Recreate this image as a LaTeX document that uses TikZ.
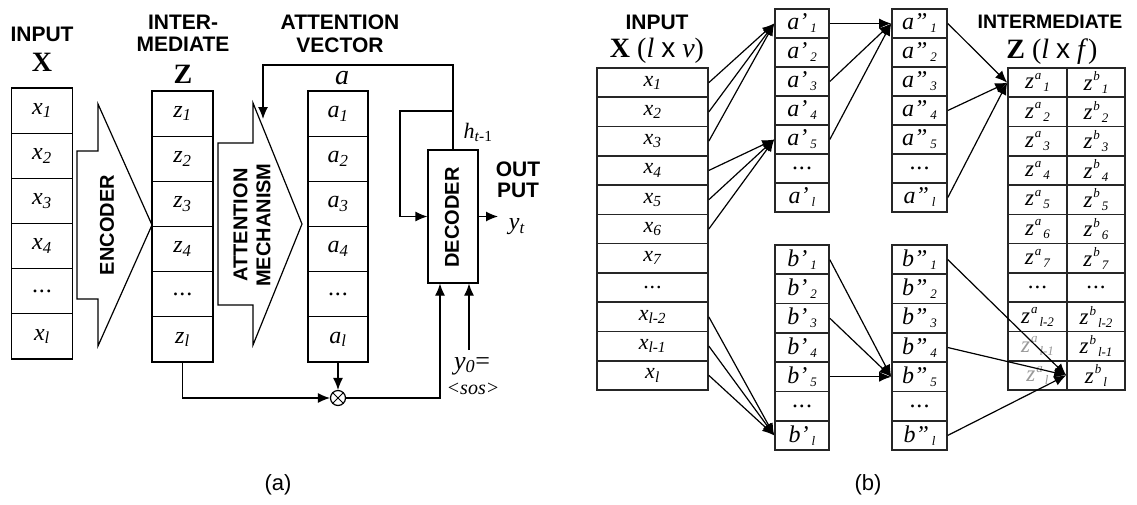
\documentclass[tikz,border=0pt]{standalone}
\usepackage{fontspec}
\setmainfont{Liberation Serif}
\setsansfont{Liberation Sans}
\usetikzlibrary{arrows.meta,calc}
\newcommand{\fsz}[1]{\fontsize{#1}{#1}\selectfont}
\newcommand{\ix}[2]{\textit{#1}\textsubscript{\textit{#2}}}
\newcommand{\apr}[3]{\textit{#1#2}\kern3pt\raisebox{-3pt}{\fsz{13}\textit{#3}}}
\newcommand{\zz}[2]{\textit{z}\kern1pt\raisebox{9.5pt}{\fsz{13}\textit{#1}}\kern2pt\raisebox{-3pt}{\fsz{13}\textit{#2}}}
\newcommand{\dd}{\textup{.\kern1pt.\kern1pt.}}
\begin{document}
\begin{tikzpicture}[x=1pt,y=-1pt,
  acell/.style={draw, line width=1.2pt, inner sep=0pt, minimum height=45.17pt, font=\fsz{24}},
  bcell/.style={draw=black!85, line width=1.6pt, inner sep=0pt, font=\fsz{22}},
  pcell/.style={draw=black!85, line width=1.6pt, inner sep=0pt, minimum width=54pt, minimum height=29pt, font=\fsz{24}},
  zcell/.style={draw=black!85, line width=1.6pt, inner sep=0pt, minimum height=29.27pt, font=\fsz{23}},
  hdr/.style={inner sep=0pt, align=center, font=\sffamily\bfseries\fontsize{21}{22}\selectfont},
  bigx/.style={inner sep=0pt, font=\bfseries\fsz{28}},
  shp/.style={draw, line width=1.2pt, line join=miter},
  rtxt/.style={rotate=90, inner sep=0pt, align=center, font=\sffamily\bfseries\fontsize{20}{23}\selectfont},
  arr/.style={draw, line width=1.2pt, -{Latex[length=12pt,width=10pt]}},
  barr/.style={draw, line width=1.2pt, -{Latex[length=12pt,width=10pt]}},
  lbl/.style={inner sep=0pt},
  captxt/.style={inner sep=0pt, font=\sffamily\fsz{22}}
]
\fill[white] (0,0) rectangle (1137,504);
\useasboundingbox (0,0) rectangle (1137,504);

% ================= (a) =================
\node[hdr] (inputA) at (42,34) {INPUT};
\node[bigx] (Xa) at (42,62) {X};
\node[hdr] (interA) at (183,33) {INTER-\\MEDIATE};
\node[bigx] (Za) at (183,74) {Z};
\node[hdr, font=\sffamily\bfseries\fontsize{21}{23}\selectfont] (attv) at (340,34) {ATTENTION\\VECTOR};
\node[lbl, font=\itshape\fsz{28}] (ahead) at (342,78) {a};

\foreach \i/\lab in {1/\ix{x}{1},2/\ix{x}{2},3/\ix{x}{3},4/\ix{x}{4},5/\dd,6/\ix{x}{l}}
  \node[acell, minimum width=61pt] (xa\i) at (42,{88+45.17*(\i-0.5)}) {\lab};
\foreach \i/\lab in {1/\ix{z}{1},2/\ix{z}{2},3/\ix{z}{3},4/\ix{z}{4},5/\dd,6/\ix{z}{l}}
  \node[acell, minimum width=61pt] (za\i) at (182.5,{91+45.17*(\i-0.5)}) {\lab};
\foreach \i/\lab in {1/\ix{a}{1},2/\ix{a}{2},3/\ix{a}{3},4/\ix{a}{4},5/\dd,6/\ix{a}{l}}
  \node[acell, minimum width=60pt] (aa\i) at (338,{91+45.17*(\i-0.5)}) {\lab};

\draw[shp] (77,151) -- (98,151) -- (98,104) -- (152,225) -- (98,346) -- (98,299) -- (77,299) -- cycle;
\node[rtxt] (enc) at (107,225) {ENCODER};
\draw[shp] (218,143) -- (253,143) -- (253,103) -- (302,224) -- (253,345) -- (253,305) -- (218,305) -- cycle;
\node[rtxt] (attm) at (252,225) {ATTENTION\\MECHANISM};

\node[draw, line width=1.2pt, minimum width=50pt, minimum height=133pt, inner sep=0pt] (dec) at (453,216.5) {};
\node[rtxt] (dect) at (452,217.5) {DECODER};

\node[draw, circle, line width=1.2pt, minimum size=15pt, inner sep=0pt] (mul) at (338,398) {};
\draw[line width=0.9pt] (mul.north west) -- (mul.south east) (mul.north east) -- (mul.south west);

\draw[arr] (za6.south) |- (mul.west);
\draw[arr] (aa6.south) -- (mul.north);
\draw[arr] (mul.east) -| ([xshift=-13pt]dec.south);
\coordinate (y0top) at (469,350);
\draw[arr] (y0top) -- (y0top |- dec.south);
\node[lbl, font=\fsz{26}] (y0) at (472,366) {\ix{y}{0}=};
\node[lbl, font=\itshape\fsz{20}] (sos) at (473,389) {<sos>};
\coordinate (fbtop) at (453,65);
\coordinate (fbend) at (263,119);
\draw[arr] (dec.north) -- (fbtop) -| (fbend);
\coordinate (lpstart) at (453,111);
\coordinate (lpcorner) at (400,111);
\draw[arr] (lpstart) -- (lpcorner) |- (dec.west);
\node[lbl, font=\fsz{22}] (ht) at (478,132) {\textit{h}\textsubscript{\textit{t}-1}};
\coordinate (outtip) at (498,216.5);
\draw[arr] (dec.east) -- (outtip);
\node[lbl, font=\fsz{24}] (yt) at (517,227) {\ix{y}{t}};
\node[hdr, font=\sffamily\bfseries\fontsize{21}{21}\selectfont] (outp) at (518,180) {OUT\\PUT};
\node[captxt] (capa) at (278,485) {(a)};

% ================= (b) =================
\node[hdr] (inputB) at (657,22) {INPUT};
\node[lbl, font=\fsz{28}] (Xb) at (657,51) {\textbf{X} (\textit{l} {\sffamily x} \textit{v})};
\node[hdr, font=\sffamily\bfseries\fsz{19.5}] (interB) at (1050,22) {INTERMEDIATE};
\node[lbl, font=\fsz{28}] (Zb) at (1052,52) {\textbf{Z} (\textit{l} {\sffamily x} \textit{f})};

\foreach \i/\lab in {1/\ix{x}{1},2/\ix{x}{2},3/\ix{x}{3},4/\ix{x}{4},5/\ix{x}{5},6/\ix{x}{6},7/\ix{x}{7},8/\dd,9/\ix{x}{l-2},10/\ix{x}{l-1},11/\ix{x}{l}}
  \node[bcell, minimum width=111pt, minimum height=29.27pt] (xb\i) at (652.5,{68+29.27*(\i-0.5)}) {\lab};

\foreach \i/\lab in {1/\apr{a}{’}{1},2/\apr{a}{’}{2},3/\apr{a}{’}{3},4/\apr{a}{’}{4},5/\apr{a}{’}{5},6/\dd,7/\apr{a}{’}{l}}
  \node[pcell] (ap\i) at (802,{9+29*(\i-0.5)}) {\lab};
\foreach \i/\lab in {1/\apr{a}{”}{1},2/\apr{a}{”}{2},3/\apr{a}{”}{3},4/\apr{a}{”}{4},5/\apr{a}{”}{5},6/\dd,7/\apr{a}{”}{l}}
  \node[pcell, minimum width=55pt] (app\i) at (919.5,{9+29*(\i-0.5)}) {\lab};
\foreach \i/\lab in {1/\apr{b}{’}{1},2/\apr{b}{’}{2},3/\apr{b}{’}{3},4/\apr{b}{’}{4},5/\apr{b}{’}{5},6/\dd,7/\apr{b}{’}{l}}
  \node[pcell, minimum height=29.29pt] (bp\i) at (802,{245+29.29*(\i-0.5)}) {\lab};
\foreach \i/\lab in {1/\apr{b}{”}{1},2/\apr{b}{”}{2},3/\apr{b}{”}{3},4/\apr{b}{”}{4},5/\apr{b}{”}{5},6/\dd,7/\apr{b}{”}{l}}
  \node[pcell, minimum width=55pt, minimum height=29.29pt] (bpp\i) at (919.5,{245+29.29*(\i-0.5)}) {\lab};

\foreach \i/\lab in {1/\zz{a}{1},2/\zz{a}{2},3/\zz{a}{3},4/\zz{a}{4},5/\zz{a}{5},6/\zz{a}{6},7/\zz{a}{7},8/\dd,9/\zz{a}{l-2}}
  \node[zcell, minimum width=59pt] (zza\i) at (1037.5,{68+29.27*(\i-0.5)}) {\lab};
\foreach \i/\lab in {10/\zz{a}{l-1},11/\zz{a}{l}}
  \node[zcell, minimum width=59pt, text=black!40] (zza\i) at (1037.5,{68+29.27*(\i-0.5)}) {\lab};
\foreach \i/\lab in {1/\zz{b}{1},2/\zz{b}{2},3/\zz{b}{3},4/\zz{b}{4},5/\zz{b}{5},6/\zz{b}{6},7/\zz{b}{7},8/\dd,9/\zz{b}{l-2},10/\zz{b}{l-1},11/\zz{b}{l}}
  \node[zcell, minimum width=58pt] (zzb\i) at (1096,{68+29.27*(\i-0.5)}) {\lab};

\foreach \s in {1,2,3} \draw[barr] (xb\s.east) -- (ap1.west);
\foreach \s in {4,5,6} \draw[barr] (xb\s.east) -- (ap5.west);
\foreach \s in {9,10,11} \draw[barr] (xb\s.east) -- (bp7.west);
\foreach \s in {1,3,5} \draw[barr] (ap\s.east) -- (app1.west);
\foreach \s in {1,4,7} \draw[barr] (app\s.east) -- (zza1.west);
\foreach \s in {1,3,5} \draw[barr] (bp\s.east) -- (bpp5.west);
\foreach \s in {1,4,7} \draw[barr] (bpp\s.east) -- (zzb11.west);

\node[captxt] (capb) at (868,485) {(b)};
\end{tikzpicture}
\end{document}
